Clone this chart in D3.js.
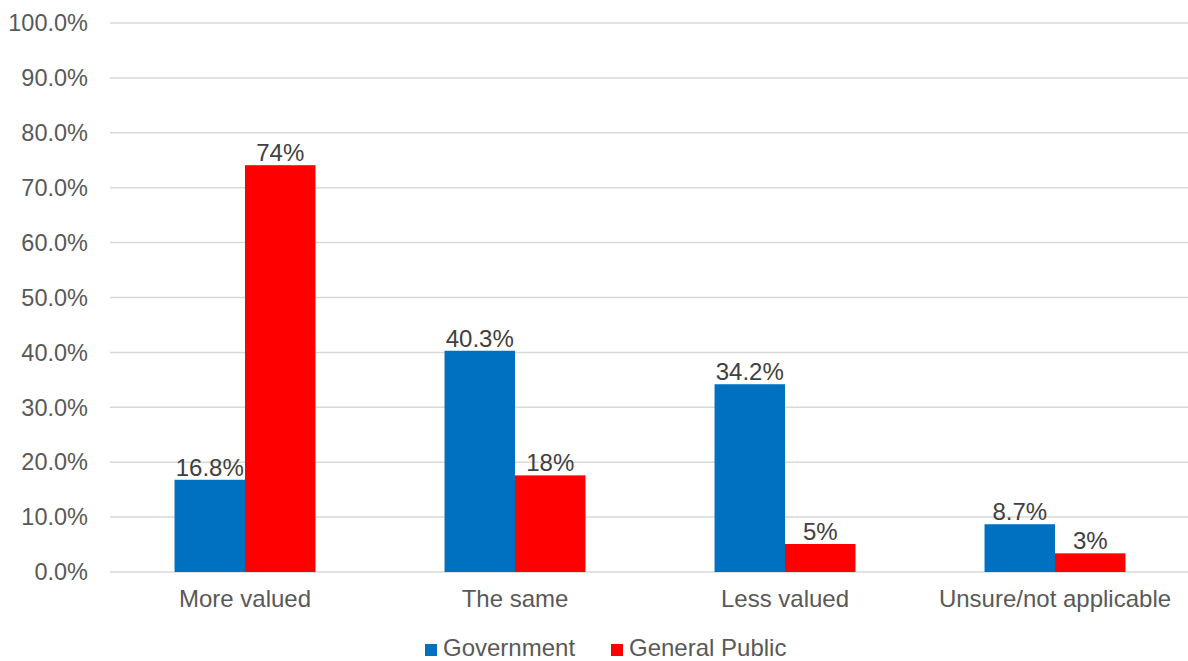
<!DOCTYPE html>
<html lang="en">
<head>
    <meta charset="UTF-8">
    <title>Government vs General Public</title>
    <script src="https://d3js.org/d3.v7.min.js"></script>
    <style>
        body {
            margin: 0;
            padding: 0;
            background-color: #ffffff;
            font-family: "Liberation Sans", Arial, sans-serif;
        }

        .grid line {
            stroke: #d9d9d9;
            stroke-width: 1.5px;
        }

        .tick-label {
            font-size: 23.5px;
            fill: #595959;
        }

        .cat-label {
            font-size: 24px;
            fill: #595959;
        }

        .bar-label {
            font-size: 24px;
            fill: #404040;
            text-anchor: middle;
        }

        .legend text {
            font-size: 24px;
            fill: #595959;
        }
    </style>
</head>
<body>
    <svg width="1188" height="661"></svg>

    <script>
        const categories = ["More valued", "The same", "Less valued", "Unsure/not applicable"];
        const seriesNames = ["Government", "General Public"];
        const governmentValues = [16.8, 40.3, 34.2, 8.7];
        const publicValues = [74.1, 17.6, 5.1, 3.4];
        const yTicks = [0, 10, 20, 30, 40, 50, 60, 70, 80, 90, 100];
        const colors = ["#0070c0", "#ff0000"];

        const margin = { top: 23, right: -2, bottom: 89, left: 110 };
        const width = 1188, height = 661;

        const svg = d3.select("svg");

        const x = d3.scaleBand()
            .domain(categories)
            .range([margin.left, width - margin.right])
            .paddingInner(0.478)
            .paddingOuter(0.239);

        const xInner = d3.scaleBand()
            .domain(seriesNames)
            .range([0, x.bandwidth()]);

        const y = d3.scaleLinear()
            .domain([0, 100])
            .range([height - margin.bottom, margin.top]);

        // gridlines
        svg.append("g")
            .attr("class", "grid")
            .selectAll("line")
            .data(yTicks)
            .enter().append("line")
            .attr("x1", margin.left)
            .attr("x2", width)
            .attr("y1", d => y(d))
            .attr("y2", d => y(d));

        // y tick labels
        svg.append("g")
            .selectAll("text")
            .data(yTicks)
            .enter().append("text")
            .attr("class", "tick-label")
            .attr("x", 88)
            .attr("y", d => y(d))
            .attr("dy", "0.35em")
            .attr("text-anchor", "end")
            .text(d => d.toFixed(1) + "%");

        // category labels
        svg.append("g")
            .selectAll("text")
            .data(categories)
            .enter().append("text")
            .attr("class", "cat-label")
            .attr("x", d => x(d) + x.bandwidth() / 2)
            .attr("y", 607)
            .attr("text-anchor", "middle")
            .text(d => d);

        const series = [
            { name: seriesNames[0], values: governmentValues, fmt: d => d.toFixed(1) + "%" },
            { name: seriesNames[1], values: publicValues, fmt: d => d3.format(".0f")(d) + "%" }
        ];

        series.forEach((s, si) => {
            const g = svg.append("g");
            const rows = categories.map((c, i) => ({ cat: c, value: s.values[i] }));

            g.selectAll("rect")
                .data(rows)
                .enter().append("rect")
                .attr("x", d => x(d.cat) + xInner(s.name))
                .attr("width", xInner.bandwidth())
                .attr("y", d => y(d.value))
                .attr("height", d => y(0) - y(d.value))
                .attr("fill", colors[si]);

            g.selectAll("text")
                .data(rows)
                .enter().append("text")
                .attr("class", "bar-label")
                .attr("x", d => x(d.cat) + xInner(s.name) + xInner.bandwidth() / 2)
                .attr("y", d => y(d.value) - 4)
                .text(d => s.fmt(d.value));
        });

        // legend
        const legendItems = [
            { name: seriesNames[0], color: colors[0], x: 425 },
            { name: seriesNames[1], color: colors[1], x: 611 }
        ];
        const legend = svg.append("g").attr("class", "legend");
        legendItems.forEach(item => {
            legend.append("rect")
                .attr("x", item.x)
                .attr("y", 644)
                .attr("width", 12)
                .attr("height", 12)
                .attr("fill", item.color);
            legend.append("text")
                .attr("x", item.x + 18)
                .attr("y", 656)
                .text(item.name);
        });
    </script>
</body>
</html>
